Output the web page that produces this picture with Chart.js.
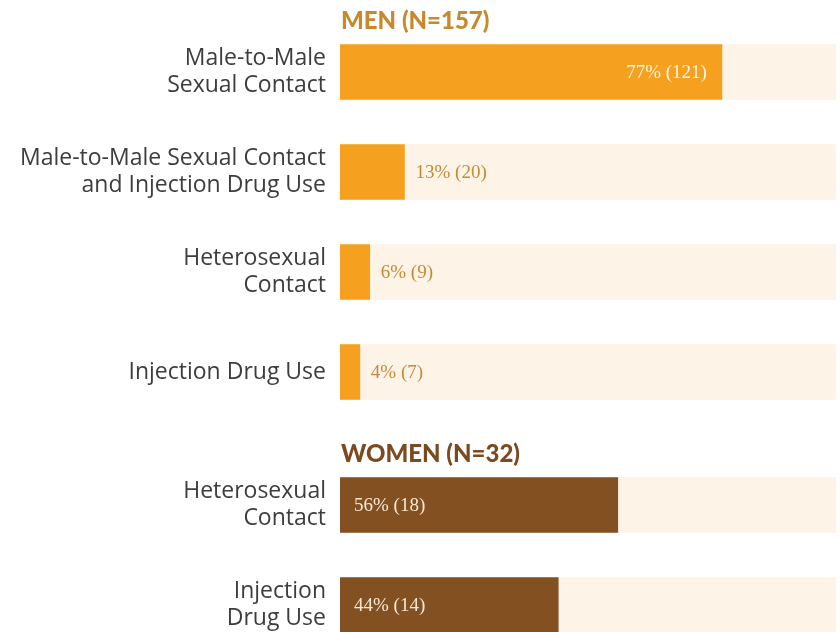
<!DOCTYPE html>
<html>
<head>
<meta charset="utf-8">
<script src="https://cdn.jsdelivr.net/npm/chart.js@4/dist/chart.umd.min.js"></script>
<style>
  html, body { margin: 0; padding: 0; background: #fff; overflow: hidden; }
  #wrap { position: relative; width: 840px; height: 632px; overflow: hidden; }
  canvas { position: absolute; left: 0; }
  #graficoHomens { top: 0; }
  #graficoMulheres { top: 430px; }
</style>
</head>
<body>
<div id="wrap">
  <canvas id="graficoHomens" width="840" height="422"></canvas>
  <canvas id="graficoMulheres" width="840" height="225"></canvas>
</div>
<script>
// ------------ Dados ------------
const menTitle = 'MEN (N=157)';
const menLabels = [
  ['Male-to-Male', 'Sexual Contact'],
  ['Male-to-Male Sexual Contact', 'and Injection Drug Use'],
  ['Heterosexual', 'Contact'],
  'Injection Drug Use'
];
const menPct = [77, 13, 6, 4];
const menCount = [121, 20, 9, 7];

const womenTitle = 'WOMEN (N=32)';
const womenLabels = [
  ['Heterosexual', 'Contact'],
  ['Injection', 'Drug Use']
];
const womenPct = [56, 44];
const womenCount = [18, 14];

const fullBar = 100;

// ------------ Cores ------------
const laranja = '#f5a11f';
const marrom = '#835021';
const creme = '#fdf3e7';

// ------------ Plugin: cabeçalho e rótulos ------------
const rotulos = {
  id: 'rotulos',
  afterDatasetsDraw(chart, args, opts) {
    const ctx = chart.ctx;
    const meta = chart.getDatasetMeta(0);
    const pct = chart.data.datasets[0].data;
    const cnt = opts.counts;

    ctx.save();
    // cabeçalho acima da primeira barra
    const first = meta.data[0];
    ctx.font = '900 24px Lato, "Open Sans", sans-serif';
    ctx.fillStyle = opts.titleColor;
    ctx.textAlign = 'left';
    ctx.textBaseline = 'middle';
    ctx.fillText(opts.title, chart.chartArea.left + 1, first.y - first.height / 2 - 23);

    ctx.font = '19px "Liberation Serif", "DejaVu Serif", serif';
    meta.data.forEach((bar, i) => {
      const txt = `${pct[i]}% (${cnt[i]})`;
      const w = ctx.measureText(txt).width;
      if (opts.mode === 'left') {
        ctx.fillStyle = '#f7e9d6';
        ctx.textAlign = 'left';
        ctx.fillText(txt, bar.base + 14, bar.y + 1);
      } else if (bar.x - bar.base > w + 30) {
        ctx.fillStyle = '#fff4e6';
        ctx.textAlign = 'right';
        ctx.fillText(txt, bar.x - 15, bar.y + 1);
      } else {
        ctx.fillStyle = '#c68a35';
        ctx.textAlign = 'left';
        ctx.fillText(txt, bar.x + 11, bar.y + 1);
      }
    });
    ctx.restore();
  }
};

function criarGrafico(canvas, labels, pct, counts, cor, title, titleColor, mode, padTop) {
  return new Chart(canvas, {
    type: 'bar',
    data: {
      labels: labels,
      datasets: [
        {
          data: pct,
          backgroundColor: cor,
          barThickness: 55,
          grouped: false,
          order: 0
        },
        {
          data: labels.map(() => fullBar),
          backgroundColor: creme,
          barThickness: 55,
          grouped: false,
          order: 1
        }
      ]
    },
    options: {
      indexAxis: 'y',
      responsive: false,
      animation: false,
      layout: { padding: { top: padTop, right: 4, bottom: 0, left: 0 } },
      plugins: {
        legend: { display: false },
        tooltip: { enabled: false },
        rotulos: { counts: counts, title: title, titleColor: titleColor, mode: mode }
      },
      scales: {
        x: { display: false, min: 0, max: 100 },
        y: {
          grid: { display: false, drawTicks: false },
          border: { display: false },
          afterFit: scale => {
            scale.width = 340;
            scale.paddingTop = 0;
            scale.paddingBottom = 0;
          },
          ticks: {
            padding: 14,
            color: '#3d3d3d',
            font: { family: '"Open Sans", Lato, sans-serif', size: 23, lineHeight: 1.15 }
          }
        }
      }
    },
    plugins: [rotulos]
  });
}

// ------------ Inicialização ------------
criarGrafico(document.getElementById('graficoHomens'), menLabels, menPct, menCount,
  laranja, menTitle, '#c7892c', 'auto', 22);
criarGrafico(document.getElementById('graficoMulheres'), womenLabels, womenPct, womenCount,
  marrom, womenTitle, '#7b4a1f', 'left', 25);
</script>
</body>
</html>
